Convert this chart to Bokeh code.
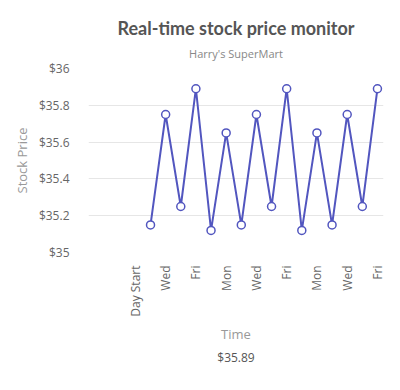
import math
from bokeh.plotting import figure
from bokeh.models import Range1d, FixedTicker, CustomJSTickFormatter, Title, ColumnDataSource
from bokeh.embed import file_html
from bokeh.resources import INLINE

# ---- data ----
categories = ["Day Start", "", "Wed", "", "Fri", "", "Mon", "", "Wed", "", "Fri", "", "Mon", "", "Wed", "", "Fri"]
prices = [float("nan"), 35.15, 35.75, 35.25, 35.89, 35.12, 35.65, 35.15, 35.75, 35.25, 35.89,
          35.12, 35.65, 35.15, 35.75, 35.25, 35.89]
y_ticks = [35.0, 35.2, 35.4, 35.6, 35.8, 36.0]
title_text = "Real-time stock price monitor"
subtitle_text = "Harry's SuperMart"
caption_text = "$35.89"
x_title = "Time"
y_title = "Stock Price"

FONT = "Open Sans"
LINE = "#5256bf"

xs = list(range(len(categories)))
src = ColumnDataSource(dict(x=xs, y=prices))

p = figure(width=400, height=390, output_backend="svg", toolbar_location=None, title=None,
           x_range=Range1d(-3.1, 16.4), y_range=Range1d(35, 36),
           min_border_left=88, min_border_right=17, min_border_top=68, min_border_bottom=138)
p.outline_line_color = None
p.background_fill_color = "white"
p.border_fill_color = "white"

p.line("x", "y", source=src, line_color=LINE, line_width=2)
p.scatter("x", "y", source=src, size=8, fill_color="white", line_color=LINE, line_width=1.5)

# axes
p.xaxis.ticker = FixedTicker(ticks=[i for i, c in enumerate(categories) if c])
p.xaxis.major_label_overrides = {i: c for i, c in enumerate(categories) if c}
p.xaxis.major_label_orientation = math.pi / 2
p.yaxis.ticker = FixedTicker(ticks=y_ticks)
p.yaxis.formatter = CustomJSTickFormatter(code="return '$' + (+tick.toFixed(1));")
for ax in (p.xaxis, p.yaxis):
    ax.axis_line_color = None
    ax.major_tick_line_color = None
    ax.minor_tick_line_color = None
    ax.major_label_text_font = FONT
    ax.major_label_text_font_size = "12px"
    ax.major_label_text_color = "#666666"
    ax.axis_label_text_font = FONT
    ax.axis_label_text_font_size = "13px"
    ax.axis_label_text_font_style = "normal"
    ax.axis_label_text_color = "#999999"
p.xaxis.axis_label = x_title
p.yaxis.axis_label = y_title
p.xaxis.major_label_standoff = 7
p.yaxis.major_label_standoff = 13
p.xaxis.axis_label_standoff = 5
p.yaxis.axis_label_standoff = 5
p.xgrid.grid_line_color = None
p.ygrid.grid_line_color = "#e6e6e6"
p.ygrid.grid_line_width = 1

p.add_layout(Title(text=subtitle_text, align="center", text_font=FONT, text_font_size="11px",
                   text_font_style="normal", text_color="#888888", standoff=15), "above")
p.add_layout(Title(text=title_text, align="center", text_font="Lato", text_font_size="18px",
                   text_font_style="bold", text_color="#555555", standoff=-4), "above")
p.add_layout(Title(text=caption_text, align="center", text_font=FONT, text_font_size="12px",
                   text_font_style="normal", text_color="#555555", standoff=3), "below")

open("out.html", "w").write(file_html(p, INLINE))
